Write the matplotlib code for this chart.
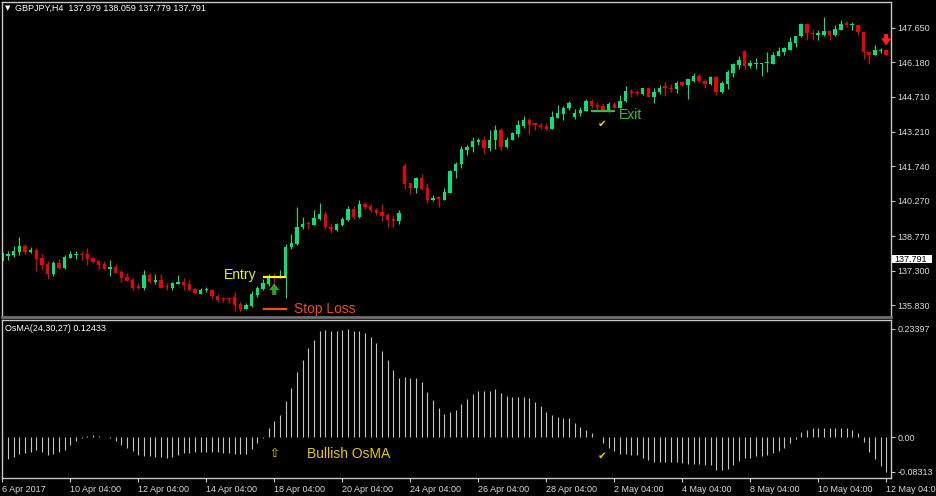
import numpy as np
import matplotlib
matplotlib.use('Agg')
import matplotlib.pyplot as plt
import matplotlib.transforms as mtransforms
from matplotlib.patches import Rectangle

plt.rcParams['font.family'] = ['Liberation Sans', 'DejaVu Sans']

# GBPJPY H4 candles, 6 Apr 2017 - 12 May 2017
opens = [137.72, 137.92, 137.96, 138.09, 138.33, 138.10, 138.19, 137.82, 137.58, 137.15,
         137.62, 137.39, 137.85, 137.98, 138.01, 138.01, 137.82, 137.71, 137.58, 137.38,
         137.45, 137.25, 137.01, 136.90, 136.63, 136.57, 137.11, 136.80, 136.88, 136.63,
         136.56, 136.73, 136.81, 136.71, 136.51, 136.32, 136.47, 136.47, 136.21, 136.11,
         136.11, 136.17, 135.86, 135.66, 135.79, 136.26, 136.53, 136.71, 137.02, 136.99,
         137.01, 138.32, 138.43, 139.17, 139.32, 139.26, 139.51, 139.71, 139.17, 139.04,
         139.26, 139.47, 139.93, 139.57, 140.14, 140.07, 139.90, 139.80, 139.67, 139.51,
         139.42, 141.76, 141.02, 140.82, 141.25, 140.82, 140.30, 140.43, 140.31, 140.62,
         141.55, 141.85, 142.44, 142.57, 142.80, 142.87, 142.53, 142.88, 143.31, 142.58,
         142.88, 143.14, 143.48, 143.72, 143.57, 143.51, 143.48, 143.34, 143.82, 143.99,
         144.22, 143.85, 144.03, 144.08, 144.53, 144.35, 144.33, 144.07, 144.41, 144.24,
         144.51, 144.96, 144.89, 144.83, 145.08, 144.71, 144.89, 145.15, 145.09, 145.05,
         145.32, 145.19, 145.40, 145.59, 145.40, 145.26, 145.53, 144.93, 145.26, 145.73,
         146.07, 146.64, 146.04, 146.10, 146.10, 146.13, 146.11, 146.46, 146.63, 146.71,
         147.00, 147.28, 147.82, 147.44, 147.35, 147.35, 147.52, 147.32, 147.57, 147.85,
         147.75, 147.75, 147.45, 146.63, 146.50, 146.64, 146.71]
highs = [138.06, 138.13, 138.35, 138.73, 138.42, 138.31, 138.25, 137.99, 137.71, 137.71,
         137.78, 137.96, 138.13, 138.15, 138.13, 138.28, 137.87, 137.75, 137.72, 137.74,
         137.58, 137.31, 137.18, 137.00, 136.77, 137.32, 137.21, 137.15, 137.15, 136.78,
         136.81, 137.11, 136.97, 136.90, 136.54, 136.56, 136.59, 136.51, 136.30, 136.18,
         136.18, 136.40, 135.94, 135.93, 136.43, 136.65, 136.93, 137.14, 137.18, 137.33,
         138.42, 138.84, 140.00, 139.57, 139.43, 139.88, 140.17, 139.85, 139.32, 139.34,
         139.60, 140.07, 140.05, 140.31, 140.22, 140.14, 139.96, 140.14, 139.76, 139.67,
         139.88, 141.88, 141.05, 141.28, 141.42, 141.04, 140.52, 140.48, 140.83, 141.59,
         141.93, 142.62, 142.66, 143.01, 142.94, 143.04, 143.27, 143.51, 143.37, 143.00,
         143.22, 143.72, 143.89, 143.80, 143.61, 143.61, 143.58, 144.12, 144.36, 144.33,
         144.53, 144.19, 144.29, 144.62, 144.61, 144.49, 144.46, 144.49, 144.49, 144.78,
         145.15, 145.02, 145.00, 145.10, 145.12, 145.10, 145.19, 145.35, 145.25, 145.36,
         145.33, 145.47, 145.74, 145.67, 145.46, 145.60, 145.60, 145.36, 145.85, 146.14,
         146.43, 146.68, 146.28, 146.36, 146.14, 146.61, 146.61, 146.81, 146.81, 147.25,
         147.31, 147.85, 147.85, 147.57, 147.57, 148.11, 147.57, 147.78, 147.99, 147.92,
         147.88, 147.82, 147.53, 146.63, 146.91, 146.78, 146.74]
lows = [137.71, 137.76, 137.87, 137.96, 138.02, 138.04, 137.29, 137.38, 136.93, 137.07,
        137.35, 137.36, 137.82, 137.81, 137.75, 137.55, 137.63, 137.38, 137.32, 137.08,
        137.18, 136.82, 136.84, 136.48, 136.53, 136.48, 136.76, 136.72, 136.54, 136.47,
        136.46, 136.71, 136.47, 136.44, 136.32, 136.28, 136.38, 136.10, 135.94, 135.97,
        135.90, 135.57, 135.54, 135.64, 135.76, 136.18, 136.47, 136.65, 136.78, 136.98,
        136.12, 138.22, 138.39, 139.07, 139.06, 139.23, 139.46, 139.06, 138.92, 139.00,
        139.21, 139.43, 139.49, 139.53, 139.91, 139.80, 139.67, 139.43, 139.17, 139.17,
        139.29, 140.78, 140.57, 140.62, 140.74, 140.20, 140.27, 140.03, 140.30, 140.60,
        141.26, 141.65, 142.23, 142.37, 142.66, 142.27, 142.40, 142.50, 142.44, 142.54,
        142.87, 143.01, 143.38, 143.11, 143.30, 143.33, 143.27, 143.34, 143.80, 143.72,
        144.15, 143.78, 143.87, 144.08, 144.24, 144.12, 144.05, 144.05, 144.21, 144.22,
        144.48, 144.69, 144.75, 144.79, 144.68, 144.46, 144.83, 144.76, 144.89, 144.86,
        145.15, 144.62, 145.32, 145.29, 145.06, 145.22, 144.79, 144.86, 145.05, 145.57,
        145.89, 145.90, 145.93, 145.90, 145.61, 145.77, 146.10, 146.43, 146.48, 146.68,
        146.85, 147.25, 147.14, 147.14, 147.14, 147.31, 147.11, 147.28, 147.54, 147.68,
        147.57, 147.35, 146.33, 146.10, 146.50, 146.57, 146.43]
closes = [138.04, 138.01, 138.13, 138.33, 138.09, 138.19, 137.81, 137.54, 137.15, 137.63,
          137.39, 137.88, 138.02, 138.01, 137.98, 137.81, 137.66, 137.55, 137.38, 137.47,
          137.21, 136.97, 136.87, 136.54, 136.57, 137.11, 136.80, 136.90, 136.57, 136.60,
          136.78, 136.82, 136.67, 136.48, 136.34, 136.48, 136.52, 136.21, 136.04, 136.09,
          136.07, 135.83, 135.66, 135.83, 136.30, 136.57, 136.78, 136.98, 136.99, 137.03,
          138.32, 138.46, 139.17, 139.29, 139.27, 139.54, 139.71, 139.17, 139.06, 139.30,
          139.50, 139.94, 139.59, 140.14, 140.00, 139.88, 139.74, 139.64, 139.46, 139.43,
          139.77, 140.99, 140.83, 141.25, 140.77, 140.31, 140.41, 140.34, 140.65, 141.56,
          141.86, 142.49, 142.58, 142.83, 142.88, 142.53, 142.88, 143.31, 142.58, 142.88,
          143.18, 143.51, 143.72, 143.52, 143.52, 143.40, 143.33, 143.85, 144.03, 144.25,
          144.46, 144.03, 144.14, 144.53, 144.32, 144.29, 144.11, 144.42, 144.24, 144.53,
          144.96, 144.86, 144.86, 145.08, 144.71, 144.92, 145.10, 145.08, 145.05, 145.30,
          145.19, 145.47, 145.60, 145.38, 145.27, 145.53, 144.93, 145.29, 145.77, 146.10,
          146.28, 146.00, 146.14, 146.13, 146.14, 146.18, 146.50, 146.64, 146.77, 147.05,
          147.28, 147.82, 147.42, 147.38, 147.42, 147.52, 147.32, 147.61, 147.82, 147.75,
          147.78, 147.45, 146.63, 146.50, 146.71, 146.71, 146.50]

# OsMA(24,30,27) histogram, one value per candle
osma = [-0.0468, -0.0468, -0.0418, -0.0367, -0.0346, -0.0310, -0.0281, -0.0310, -0.0382, -0.0367,
        -0.0324, -0.0274, -0.0166, -0.0079, -0.0007, 0.0036, 0.0043, 0.0036, 0.0007, -0.0022,
        -0.0079, -0.0166, -0.0223, -0.0295, -0.0382, -0.0410, -0.0410, -0.0418, -0.0432, -0.0439,
        -0.0418, -0.0382, -0.0346, -0.0331, -0.0324, -0.0310, -0.0310, -0.0310, -0.0324, -0.0331,
        -0.0338, -0.0367, -0.0367, -0.0353, -0.0252, -0.0130, -0.0007, 0.0194, 0.0353, 0.0482,
        0.0785, 0.1058, 0.1404, 0.1670, 0.1922, 0.2102, 0.2297, 0.2318, 0.2297, 0.2304,
        0.2311, 0.2340, 0.2297, 0.2304, 0.2246, 0.2174, 0.2030, 0.1865, 0.1670, 0.1454,
        0.1289, 0.1303, 0.1289, 0.1289, 0.1188, 0.0986, 0.0806, 0.0626, 0.0504, 0.0540,
        0.0590, 0.0720, 0.0828, 0.0929, 0.1001, 0.1001, 0.1001, 0.1044, 0.0950, 0.0900,
        0.0871, 0.0878, 0.0878, 0.0842, 0.0770, 0.0684, 0.0540, 0.0482, 0.0446, 0.0410,
        0.0410, 0.0302, 0.0216, 0.0158, 0.0101, 0.0005, -0.0115, -0.0223, -0.0295, -0.0367,
        -0.0367, -0.0382, -0.0382, -0.0454, -0.0490, -0.0526, -0.0526, -0.0526, -0.0540, -0.0540,
        -0.0562, -0.0576, -0.0576, -0.0583, -0.0598, -0.0598, -0.0706, -0.0706, -0.0684, -0.0598,
        -0.0504, -0.0454, -0.0439, -0.0403, -0.0403, -0.0382, -0.0331, -0.0295, -0.0223, -0.0130,
        -0.0036, 0.0108, 0.0158, 0.0194, 0.0194, 0.0194, 0.0194, 0.0194, 0.0194, 0.0194,
        0.0158, 0.0086, -0.0108, -0.0310, -0.0468, -0.0612, -0.0742]

price_ticks = [147.650, 146.180, 144.710, 143.210, 141.740, 140.270, 138.770, 137.300, 135.830]
date_ticks = [0, 12, 24, 36, 48, 60, 72, 84, 96, 108, 120, 132, 144, 156]
date_labels = ['6 Apr 2017', '10 Apr 04:00', '12 Apr 04:00', '14 Apr 04:00', '18 Apr 04:00',
               '20 Apr 04:00', '24 Apr 04:00', '26 Apr 04:00', '28 Apr 04:00', '2 May 04:00',
               '4 May 04:00', '8 May 04:00', '10 May 04:00', '12 May 04:00']
osma_tick_labels = ['0.23397', '0.00', '-0.08313']
last_price = 137.791
entry_price = 137.04
stop_price = 135.65
exit_price = 144.11
entry_bar = 48
exit_bar = 106

bull = '#00E676'
bear = '#F00000'
axis_col = '#C8C8C8'

fig = plt.figure(figsize=(9.36, 4.96), dpi=100, facecolor='black')
ax = fig.add_axes([0.00182, 0.36089, 0.94979, 0.63569], facecolor='black')
ax2 = fig.add_axes([0.00182, 0.03569, 0.94979, 0.31815], facecolor='black')

x = np.arange(len(opens))
o = np.array(opens)
c = np.array(closes)
colors = np.where(c >= o, bull, bear)

# candles
ax.vlines(x, lows, highs, colors=colors, lw=0.8)
body_h = np.maximum(np.abs(c - o), 0.045)
ax.bar(x, body_h, 0.6, bottom=np.minimum(o, c), color=colors, lw=0)

# OsMA histogram
ax2.vlines(x, 0, osma, colors='#C4C4C4', lw=0.8)

for a in (ax, ax2):
    a.set_xlim(-0.1, 156.8)
    for s in a.spines.values():
        s.set_color(axis_col)
        s.set_linewidth(1)
    a.yaxis.tick_right()
    a.tick_params(colors=axis_col, labelcolor='#D8D8D8', labelsize=6.5,
                  length=3, width=0.8, pad=2)
ax.spines['bottom'].set_color('#707070')
ax.spines['bottom'].set_linewidth(2)

ax.set_ylim(135.32, 148.76)
ax.set_xticks([])
ax.set_yticks(price_ticks)
ax.set_yticklabels([f'{v:.3f}' for v in price_ticks])

ax2.set_ylim(-0.0886, 0.2523)
ax2.set_yticks([max(osma), 0, min(osma)])
ax2.set_yticklabels(osma_tick_labels)
ax2.set_xticks(date_ticks)
ax2.set_xticklabels(date_labels, ha='left')
ax2.tick_params(axis='x', pad=1.5)

# current price box on the price scale
trans = mtransforms.blended_transform_factory(ax.transAxes, ax.transData)
ax.add_patch(Rectangle((1.0 + 1.5 / 889, last_price - 0.19), 40 / 889, 0.38,
                       transform=trans, facecolor='white', edgecolor='none', clip_on=False))
ax.text(1.0 + 4 / 889, last_price, f'{last_price:.3f}', transform=trans, color='black',
        fontsize=6.5, va='center', ha='left', clip_on=False)

# trade annotations
arrow_style = 'simple,head_width=0.75,head_length=0.5,tail_width=0.3'
ax.hlines(entry_price, entry_bar - 2.0, entry_bar + 2.1, color='#FFFF00', lw=1.6)
ax.text(entry_bar - 3.2, entry_price + 0.05, 'Entry', color='#F0F000', fontsize=10,
        ha='right', va='center')
ax.annotate('', xy=(entry_bar, 136.76), xytext=(entry_bar, 136.26),
            arrowprops=dict(arrowstyle=arrow_style, color='#2E9E2E', lw=0,
                            shrinkA=0, shrinkB=0))
ax.hlines(stop_price, entry_bar - 2.0, entry_bar + 2.2, color='#FF4A10', lw=1.6)
ax.text(entry_bar + 3.5, stop_price, 'Stop Loss', color='#F04A10', fontsize=10,
        ha='left', va='center')
ax.hlines(exit_price, exit_bar - 2.1, exit_bar + 2.2, color='#3DB83D', lw=1.6)
ax.text(exit_bar + 2.9, exit_price - 0.18, 'Exit', color='#3DB83D', fontsize=10,
        ha='left', va='center')
ax.text(exit_bar - 0.1, exit_price - 0.56, '\u2714', color='#F0D000', fontsize=7.5,
        ha='center', va='center', family='DejaVu Sans')
ax.annotate('', xy=(156, 146.90), xytext=(156, 147.38),
            arrowprops=dict(arrowstyle=arrow_style, color='#FF2020', lw=0,
                            shrinkA=0, shrinkB=0))

ax2.text(entry_bar, -0.034, '\u21e7', color='#F0E000', fontsize=8.5,
         ha='center', va='center', family='DejaVu Sans')
ax2.text(53.8, -0.037, 'Bullish OsMA', color='#E8C800', fontsize=10, ha='left', va='center')
ax2.text(exit_bar - 0.1, -0.040, '\u2714', color='#F0D000', fontsize=7.5,
         ha='center', va='center', family='DejaVu Sans')

# window captions
fig.text(5 / 936, 1 - 8.3 / 496, '\u25bc', color='white', fontsize=5, va='center',
         family='DejaVu Sans')
fig.text(15 / 936, 1 - 8.3 / 496, 'GBPJPY,H4  137.979 138.059 137.779 137.791',
         color='white', fontsize=6.5, va='center')
fig.text(5 / 936, 1 - 328.3 / 496, 'OsMA(24,30,27) 0.12433', color='white',
         fontsize=6.5, va='center')

fig.savefig('out.png', dpi=100, facecolor='black')
